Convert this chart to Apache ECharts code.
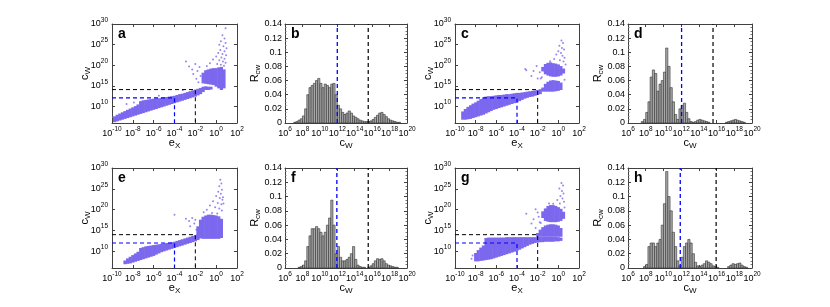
<!DOCTYPE html>
<html><head><meta charset="utf-8">
<script src="https://cdn.jsdelivr.net/npm/echarts@6/dist/echarts.min.js"></script>
<style>html,body{margin:0;padding:0;background:#fff}#c{width:830px;height:307px}</style>
</head><body><div id="c"></div>
<script>
// ---------- DATA (log10 units) ----------
const panelLetters = ['a','b','c','d','e','f','g','h'];
const scatterXTicks = [-10,-8,-6,-4,-2,0,2];
const scatterYTicks = [10,15,20,25,30];
const histXTicks = [6,8,10,12,14,16,18,20];
const histYTicks = [0,0.02,0.04,0.06,0.08,0.1,0.12,0.14];

// scatter clouds: [log10 e_X column, low log10 c_W, high log10 c_W]
const aMain = [[-9.75,6.2,7.6],[-9.5,6.4,8.0],[-9.25,6.6,8.3],[-9,6.8,8.6],[-8.75,7.0,8.9],[-8.5,7.2,9.2],[-8.25,7.4,9.5],[-8,7.6,9.8],[-7.75,7.8,10.1],[-7.5,8.0,10.5],[-7.25,8.2,11.3],[-7,8.4,11.5],[-6.75,8.6,11.6],[-6.5,8.8,11.7],[-6.25,9.0,11.8],[-6,9.2,11.9],[-5.75,9.4,12.0],[-5.5,9.6,12.0],[-5.25,9.8,12.1],[-5,10.0,12.2],[-4.75,10.2,12.3],[-4.5,10.4,12.4],[-4.25,10.6,12.5],[-4,10.8,12.6],[-3.75,11.0,12.8],[-3.5,11.2,13.0],[-3.25,11.4,13.1],[-3,11.6,13.3],[-2.75,11.8,13.5],[-2.5,12.0,13.7],[-2.25,12.2,13.9],[-2,12.4,14.1],[-1.75,12.7,14.3],[-1.5,13.0,14.5],[-1.25,13.5,14.8]];
const aRight = [[-1.25,15.6,18.2],[-1,15.5,18.8],[-0.75,15.4,19.0],[-0.5,15.3,19.2],[-0.25,15.2,19.3],[0,14.8,19.3],[0.25,14.4,19.5],[0.5,14.0,19.6],[0.75,14.4,19.0],[-1,14.0,14.9],[-0.75,14.0,14.8],[-0.5,14.1,14.8]];
const aDots = [[0.9,29.0],[0.6,27.3],[0.8,26.5],[0.45,25.8],[0.9,25.4],[0.3,25.0],[0.7,24.6],[1.0,24.1],[0.4,23.7],[0.8,23.4],[0.2,23.0],[0.6,22.7],[0.95,22.4],[0.0,22.1],[0.5,21.9],[0.8,21.6],[-0.3,21.4],[0.3,21.2],[0.65,20.9],[0.9,20.6],[-0.6,20.5],[0.1,20.3],[0.45,20.1],[0.75,19.9],[-0.9,19.8],[-2.9,20.9],[-2.6,19.7],[-2.3,19.0],[-2.0,20.3],[-1.8,18.6],[-1.6,19.6],[-1.5,17.4],[-2.2,17.9],[-1.9,16.7],[-1.7,15.9],[-8.6,10.6],[-7.9,11.0],[-9.9,7.4],[-3.2,14.0],[-5.5,12.6]];
const aThresh = {blueX:-4, blueY:12.1, blackX:-2, blackY:14.1};

const cMain = [[-9.25,6.8,8.8],[-9,6.8,9.4],[-8.75,6.9,9.9],[-8.5,7.0,10.3],[-8.25,7.2,10.7],[-8,7.4,11.0],[-7.75,7.6,11.4],[-7.5,7.8,11.8],[-7.25,8.0,12.2],[-7,8.3,12.4],[-6.75,8.6,12.5],[-6.5,8.9,12.5],[-6.25,9.2,12.6],[-6,9.4,12.7],[-5.75,9.6,12.8],[-5.5,9.8,12.8],[-5.25,10.0,12.9],[-5,10.2,13.0],[-4.75,10.4,13.0],[-4.5,10.6,13.1],[-4.25,10.8,13.2],[-4,11.0,13.3],[-3.75,11.3,13.3],[-3.5,11.6,13.4],[-3.25,11.9,13.5],[-3,12.1,13.6],[-2.75,12.3,13.7],[-2.5,12.4,13.8],[-2.25,12.6,13.9],[-2,12.8,14.0],[-1.75,13.0,14.2]];
const cMid = [[-1.5,13.6,14.6],[-1.25,13.6,15.5],[-1,13.6,16.0],[-0.75,13.6,16.3],[-0.5,13.6,16.4],[-0.25,13.7,16.3],[0,13.8,16.2],[0.25,14.0,15.8]];
const cTop = [[-1.5,18.5,19.6],[-1.25,17.8,20.3],[-1,17.5,20.6],[-0.75,17.3,20.7],[-0.5,17.2,20.5],[-0.25,17.2,20.4],[0,17.3,20.2],[0.25,17.5,19.8],[0.5,18.0,19.2]];
const cDots = [[0.3,26.0],[0.45,25.4],[0.1,24.7],[0.35,24.2],[0.55,23.8],[0.0,23.4],[0.25,23.0],[-0.2,22.6],[0.4,22.3],[0.6,21.8],[-0.4,21.5],[0.15,21.2],[-0.8,21.0],[0.5,20.9],[-3.2,19.1],[-3.1,18.8],[-2.4,18.6],[-2.1,19.8],[-1.8,18.3],[-2.6,17.4],[-2.0,16.8],[-1.7,16.8],[-1.6,17.1],[0.7,20.2],[0.6,16.5]];
const cThresh = {blueX:-4, blueY:12.1, blackX:-2, blackY:14.1};

const eMain = [[-8.75,6.9,7.8],[-8.5,7.0,8.3],[-8.25,7.1,8.7],[-8,7.3,9.1],[-7.75,7.5,9.5],[-7.5,7.7,9.9],[-7.25,7.9,10.8],[-7,8.1,11.0],[-6.75,8.3,11.2],[-6.5,8.5,11.3],[-6.25,8.7,11.4],[-6,8.9,11.5],[-5.75,9.2,11.6],[-5.5,9.5,11.7],[-5.25,9.8,11.8],[-5,10.0,11.9],[-4.75,10.2,12.0],[-4.5,10.4,12.1],[-4.25,10.6,12.2],[-4,10.8,12.3],[-3.75,11.0,12.5],[-3.5,11.2,12.7],[-3.25,11.4,12.9],[-3,11.6,13.1],[-2.75,11.8,13.3],[-2.5,12.0,13.5],[-2.25,12.2,13.7],[-2,12.4,13.9],[-1.75,12.7,14.1]];
const eRight = [[-1.75,13.2,16.0],[-1.5,13.1,17.6],[-1.25,13.0,18.3],[-1,13.0,18.6],[-0.75,13.0,18.8],[-0.5,13.0,18.8],[-0.25,13.0,18.7],[0,13.0,18.6],[0.25,13.0,18.4],[0.5,13.2,17.8]];
const eDots = [[0.4,27.2],[0.5,26.3],[0.3,25.6],[0.55,24.8],[0.2,24.3],[0.45,23.8],[0.0,23.3],[0.35,22.8],[0.6,22.4],[-0.3,22.0],[0.15,21.6],[0.5,21.3],[-0.6,21.0],[-0.1,20.6],[0.3,20.3],[-0.9,20.0],[0.55,19.8],[-1.2,19.4],[-0.4,19.2],[0.1,19.1],[-4.0,18.8],[-2.9,17.8],[-2.6,17.3],[-2.3,18.0],[-2.1,16.7],[-2.0,17.6],[-2.5,16.0],[-1.9,15.2],[0.7,21.5],[0.65,23.0]];
const eThresh = {blueX:-4, blueY:12.0, blackX:-2, blackY:14.0};

const gMain = [[-8,7.6,9.6],[-7.75,7.6,10.3],[-7.5,7.7,10.9],[-7.25,7.8,11.4],[-7,7.9,13.2],[-6.75,8.0,13.3],[-6.5,8.1,13.3],[-6.25,8.3,13.3],[-6,8.5,13.3],[-5.75,8.7,13.3],[-5.5,8.9,13.3],[-5.25,9.1,13.3],[-5,9.3,13.4],[-4.75,9.5,13.4],[-4.5,9.7,13.4],[-4.25,9.9,13.4],[-4,10.1,13.4],[-3.75,10.4,13.4],[-3.5,10.7,13.4],[-3.25,11.0,13.4],[-3,11.3,13.4],[-2.75,11.6,13.4],[-2.5,11.8,13.4],[-2.25,12.0,13.4],[-2,12.1,13.5],[-1.75,12.2,13.5],[-1.5,12.2,13.5],[-1.25,12.3,13.5],[-1,12.3,13.5],[-0.75,12.3,13.5],[-0.5,12.3,13.5],[-0.25,12.4,13.5],[0,12.4,13.4],[0.25,12.5,13.3]];
const gMid = [[-2,13.5,14.4],[-1.75,13.5,15.2],[-1.5,13.5,15.8],[-1.25,13.5,16.2],[-1,13.5,16.4],[-0.75,13.5,16.5],[-0.5,13.5,16.5],[-0.25,13.5,16.4],[0,13.5,16.2],[0.25,13.5,15.6]];
const gTop = [[-1.5,18.0,19.6],[-1.25,17.3,20.3],[-1,17.1,20.9],[-0.75,17.0,21.1],[-0.5,17.0,21.1],[-0.25,17.0,20.9],[0,17.1,20.6],[0.25,17.3,20.2],[0.5,17.8,19.5]];
const gDots = [[0.3,26.4],[0.45,25.8],[0.1,25.1],[0.35,24.5],[0.5,23.9],[0.2,23.3],[0.4,22.7],[-0.1,22.3],[0.55,21.9],[0.15,21.5],[-0.5,21.4],[-3.1,19.0],[-2.2,20.1],[-2.0,19.3],[-1.9,18.3],[-2.4,17.7],[-1.8,17.0],[-2.6,16.7],[-2.2,15.6],[-1.7,16.8],[-0.9,21.5],[0.6,20.5],[-8.3,9.0],[-8.4,8.2]];
const gThresh = {blueX:-4, blueY:12.0, blackX:-2, blackY:14.0};

// histograms: left edges of log10 c_W bins and R_cw heights
const histBinLeft = [7,7.25,7.5,7.75,8,8.25,8.5,8.75,9,9.25,9.5,9.75,10,10.25,10.5,10.75,11,11.25,11.5,11.75,12,12.25,12.5,12.75,13,13.25,13.5,13.75,14,14.25,14.5,14.75,15,15.25,15.5,15.75,16,16.25,16.5,16.75,17,17.25,17.5,17.75,18,18.25,18.5,18.75,19,19.25,19.5,19.75];
const histBinWidth = 0.25;
const bHeights = [0.001,0.002,0.004,0.006,0.01,0.02,0.04,0.05,0.053,0.056,0.06,0.063,0.056,0.05,0.055,0.053,0.05,0.055,0.056,0.04,0.025,0.02,0.015,0.012,0.014,0.017,0.014,0.01,0.008,0.006,0.004,0.003,0.002,0.002,0.002,0.003,0.005,0.008,0.011,0.014,0.015,0.012,0.009,0.006,0.004,0.003,0.002,0.001,0.001,0,0,0];
const dHeights = [0,0,0.002,0.005,0.015,0.03,0.065,0.075,0.07,0.045,0.055,0.06,0.072,0.106,0.08,0.05,0.03,0.012,0.005,0.02,0.025,0.028,0.015,0.006,0.002,0.001,0.002,0.004,0.005,0.004,0.003,0.002,0.001,0,0,0,0,0,0,0,0.001,0.002,0.003,0.004,0.005,0.004,0.003,0.002,0.001,0,0,0];
const fHeights = [0,0,0.001,0.002,0.004,0.01,0.03,0.045,0.055,0.055,0.058,0.055,0.05,0.045,0.05,0.06,0.07,0.095,0.06,0.02,0.03,0.015,0.01,0.01,0.012,0.015,0.02,0.03,0.012,0.004,0.002,0.001,0.001,0,0.001,0.003,0.006,0.01,0.013,0.012,0.013,0.01,0.006,0.004,0.003,0.002,0.001,0.001,0,0,0,0];
const hHeights = [0,0,0,0.002,0.005,0.03,0.035,0.035,0.03,0.035,0.04,0.06,0.09,0.135,0.1,0.08,0.05,0.03,0.01,0.003,0.015,0.03,0.035,0.04,0.035,0.02,0.008,0.003,0.002,0.004,0.006,0.01,0.008,0.006,0.003,0.002,0.001,0,0,0,0,0.002,0.004,0.006,0.005,0.006,0.007,0.004,0.002,0.001,0,0];
const bLines = {blue:12.0, black:15.55};
const dLines = {blue:12.05, black:15.6};
const fLines = {blue:11.95, black:15.55};
const hLines = {blue:11.9, black:15.95};

// ---------- LAYOUT / STYLE ----------
const FONT = '"Liberation Sans", Arial, Helvetica, sans-serif';
const PURPLE = '#7B68EE';
const AX = '#404040';
const boxes = [[112,24,125,99],[285,24,122,99],[455,24,124,99],[628,24,124,99],
               [112,168,125,100],[285,168,122,100],[455,168,124,100],[628,168,124,100]];
const panels = [
  {kind:'s', clouds:[aMain,aRight], dots:aDots, th:aThresh},
  {kind:'h', heights:bHeights, lines:bLines},
  {kind:'s', clouds:[cMain,cMid,cTop], dots:cDots, th:cThresh},
  {kind:'h', heights:dHeights, lines:dLines},
  {kind:'s', clouds:[eMain,eRight], dots:eDots, th:eThresh},
  {kind:'h', heights:fHeights, lines:fLines},
  {kind:'s', clouds:[gMain,gMid,gTop], dots:gDots, th:gThresh},
  {kind:'h', heights:hHeights, lines:hLines}
];

const SUP = {b:{fontSize:9,fontFamily:FONT,color:'#000'}, s:{fontSize:6.5,fontFamily:FONT,color:'#000',padding:[0,0,8,0]}};
const SUB = {n:{fontSize:11,fontFamily:FONT,color:'#000'}, s:{fontSize:8,fontFamily:FONT,color:'#000',padding:[7,0,0,0]}};
const supFmt = v => '{b|10}{s|' + Math.round(v) + '}';
const decFmt = v => String(parseFloat(Number(v).toFixed(2)));

const grid = [], xAxis = [], yAxis = [], series = [], graphic = [];
const line = {show:true, onZero:false, lineStyle:{color:AX, width:1}};
const tick = (vals) => ({show:true, inside:true, length:3, lineStyle:{color:AX}, customValues: vals});

panels.forEach((p, i) => {
  const [l, t, w, h] = boxes[i];
  grid.push({left:l, top:t, width:w, height:h, containLabel:false});
  const xi = xAxis.length, yi = yAxis.length;
  if (p.kind === 's') {
    const xr = {min:-10, max:2, interval:2};
    xAxis.push(Object.assign({gridIndex:i, type:'value', position:'bottom', axisLine:line, axisTick:tick(scatterXTicks),
      axisLabel:{margin:3, formatter:supFmt, rich:SUP, customValues:scatterXTicks, showMinLabel:true, showMaxLabel:true},
      splitLine:{show:false}, name:'{n|e}{s|X}', nameLocation:'middle', nameGap:12, nameMoveOverlap:false, nameTextStyle:{rich:SUB}}, xr));
    xAxis.push(Object.assign({gridIndex:i, type:'value', position:'top', axisLine:line, axisTick:tick(scatterXTicks),
      axisLabel:{show:false}, splitLine:{show:false}}, xr));
    const yr = {min:6, max:30};
    yAxis.push(Object.assign({gridIndex:i, type:'value', position:'left', axisLine:line, axisTick:tick(scatterYTicks),
      axisLabel:{margin:4, formatter:supFmt, rich:SUP, customValues:scatterYTicks},
      splitLine:{show:false}, name:'{n|c}{s|W}', nameLocation:'middle', nameRotate:90, nameGap:20, nameMoveOverlap:false, nameTextStyle:{rich:SUB}}, yr));
    yAxis.push(Object.assign({gridIndex:i, type:'value', position:'right', axisLine:line, axisTick:tick(scatterYTicks),
      axisLabel:{show:false}, splitLine:{show:false}}, yr));
    const cloudData = [].concat(...p.clouds);
    series.push({type:'custom', xAxisIndex:xi, yAxisIndex:yi, data:cloudData, encode:{x:0, y:[1,2]}, z:2, silent:true,
      renderItem:(params, api) => {
        const x = api.value(0), lo = api.value(1), hi = api.value(2);
        const a = api.coord([x - 0.125, hi]), b = api.coord([x + 0.125, lo]);
        return {type:'rect', shape:{x:a[0]-0.3, y:a[1], width:b[0]-a[0]+0.6, height:b[1]-a[1]}, style:{fill:PURPLE}};
      }});
    series.push({type:'scatter', xAxisIndex:xi, yAxisIndex:yi, data:p.dots, symbolSize:2, itemStyle:{color:PURPLE}, z:3, silent:true});
    const th = p.th;
    series.push({type:'line', xAxisIndex:xi, yAxisIndex:yi, data:[[xr.min, th.blackY],[th.blackX, th.blackY],[th.blackX, yr.min]],
      symbol:'none', lineStyle:{color:'#000', width:1, type:[4,3]}, z:5, silent:true});
    series.push({type:'line', xAxisIndex:xi, yAxisIndex:yi, data:[[xr.min, th.blueY],[th.blueX, th.blueY],[th.blueX, yr.min]],
      symbol:'none', lineStyle:{color:'#0000ff', width:1.2, type:[4,3]}, z:5, silent:true});
  } else {
    const xr = {min:6, max:20, interval:2};
    xAxis.push(Object.assign({gridIndex:i, type:'value', position:'bottom', axisLine:line, axisTick:tick(histXTicks),
      axisLabel:{margin:3, formatter:supFmt, rich:SUP, customValues:histXTicks, showMinLabel:true, showMaxLabel:true},
      splitLine:{show:false}, name:'{n|c}{s|W}', nameLocation:'middle', nameGap:12, nameMoveOverlap:false, nameTextStyle:{rich:SUB}}, xr));
    xAxis.push(Object.assign({gridIndex:i, type:'value', position:'top', axisLine:line, axisTick:tick(histXTicks),
      axisLabel:{show:false}, splitLine:{show:false}}, xr));
    const yr = {min:0, max:0.14, interval:0.02};
    const minor = {show:true, splitNumber:4, length:1.5, lineStyle:{color:'#777'}};
    yAxis.push(Object.assign({gridIndex:i, type:'value', position:'left', axisLine:line,
      axisTick:{show:true, inside:true, length:3, lineStyle:{color:AX}}, minorTick:minor,
      axisLabel:{margin:3, formatter:decFmt, fontSize:9, fontFamily:FONT, color:'#000', showMinLabel:true, showMaxLabel:true},
      splitLine:{show:false}, minorSplitLine:{show:false}, name:'{n|R}{s|cw}', nameLocation:'middle', nameRotate:90, nameGap:23, nameMoveOverlap:false, nameTextStyle:{rich:SUB}}, yr));
    yAxis.push(Object.assign({gridIndex:i, type:'value', position:'right', axisLine:line,
      axisTick:{show:true, inside:true, length:3, lineStyle:{color:AX}}, minorTick:minor,
      axisLabel:{show:false}, splitLine:{show:false}}, yr));
    const barData = histBinLeft.map((b, k) => [b, p.heights[k]]).filter(d => d[1] > 0);
    series.push({type:'custom', xAxisIndex:xi, yAxisIndex:yi, data:barData, encode:{x:0, y:1}, z:2, silent:true,
      renderItem:(params, api) => {
        const x = api.value(0), v = api.value(1);
        const a = api.coord([x, v]), b = api.coord([x + histBinWidth, 0]);
        return {type:'rect', shape:{x:a[0], y:a[1], width:b[0]-a[0], height:b[1]-a[1]},
          style:{fill:'#a8a8a8', stroke:'#303030', lineWidth:0.6}};
      }});
    series.push({type:'line', xAxisIndex:xi, yAxisIndex:yi, data:[[p.lines.blue, yr.min],[p.lines.blue, yr.max]],
      symbol:'none', lineStyle:{color:'#0000ff', width:1.3, type:[4,3]}, z:5, silent:true});
    series.push({type:'line', xAxisIndex:xi, yAxisIndex:yi, data:[[p.lines.black, yr.min],[p.lines.black, yr.max]],
      symbol:'none', lineStyle:{color:'#000', width:1.2, type:[4,3]}, z:5, silent:true});
  }
  graphic.push({type:'text', left:l+6, top:t+3, z:10, style:{text:panelLetters[i], font:'bold 14px ' + FONT, fill:'#000'}});
});

const chart = echarts.init(document.getElementById('c'), null, {renderer:'canvas'});
chart.setOption({animation:false, backgroundColor:'#fff', grid, xAxis, yAxis, series, graphic});
</script></body></html>
